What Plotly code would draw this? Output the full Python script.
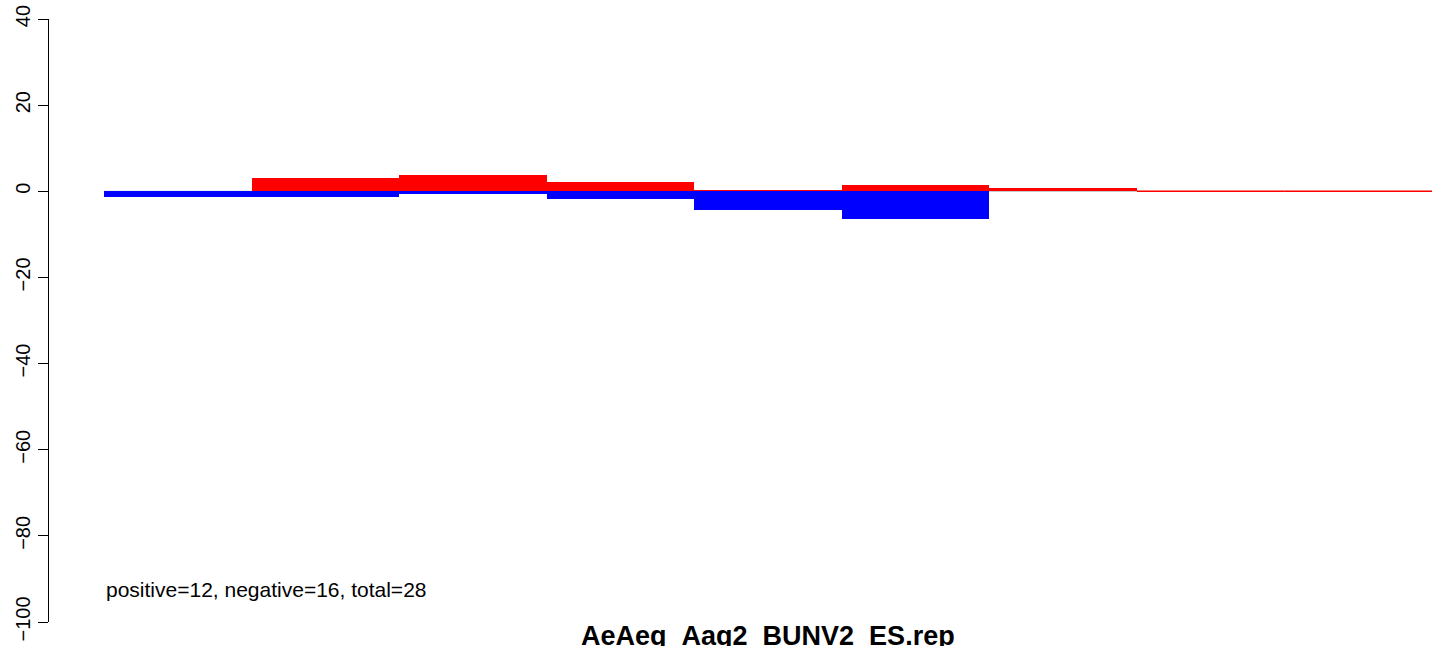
import plotly.graph_objects as go

# Bin index (9 equal-width bins)
bins = [1, 2, 3, 4, 5, 6, 7, 8, 9]
positive_vals = [0.0, 3.0, 3.7, 2.1, 0.3, 1.4, 0.8, 0.0, 0.0]
negative_vals = [-1.4, -1.4, -0.7, -1.8, -4.4, -6.5, 0.0, 0.0, 0.0]
y_ticks = [-100, -80, -60, -40, -20, 0, 20, 40]
title_text = "AeAeg_Aag2_BUNV2_ES.rep"
summary_text = "positive=12, negative=16, total=28"

centers = [b - 0.5 for b in bins]
font_family = "Liberation Sans, Arial, Helvetica, sans-serif"

fig = go.Figure()

# zero reference line across all bins
fig.add_shape(type="line", xref="x", yref="y", x0=bins[0] - 1, x1=bins[-1], y0=0, y1=0,
              line=dict(color="#bbbbbb", width=1), layer="below")

fig.add_trace(go.Bar(x=centers, y=positive_vals, width=1, marker=dict(color="#ff0000", line=dict(width=0)),
                     showlegend=False, hoverinfo="y"))
fig.add_trace(go.Bar(x=centers, y=negative_vals, width=1, marker=dict(color="#0000ff", line=dict(width=0)),
                     showlegend=False, hoverinfo="y"))

# empty bins outline (zero-height positive bars drawn as a line)
empty_x = []
for b, p, n in zip(bins, positive_vals, negative_vals):
    if p == 0 and n == 0:
        empty_x += [b - 1, b, None]
fig.add_trace(go.Scatter(x=empty_x, y=[0 if v is not None else None for v in empty_x], mode="lines",
                         line=dict(color="#ff0000", width=1.5), showlegend=False, hoverinfo="skip"))

fig.add_annotation(x=bins[0] - 1, y=-92.5, xref="x", yref="y", text=summary_text, showarrow=False,
                   xanchor="left", yanchor="middle", font=dict(family=font_family, size=21, color="black"))
fig.add_annotation(x=(bins[0] - 1 + bins[-1]) / 2, y=0, xref="x", yref="paper", text="<b>" + title_text + "</b>",
                   showarrow=False, xanchor="center", yanchor="top", yshift=3,
                   font=dict(family=font_family, size=27, color="black"))

fig.update_layout(
    width=1444, height=646,
    margin=dict(l=49, r=12, t=19, b=24, autoexpand=False),
    paper_bgcolor="white", plot_bgcolor="white",
    barmode="overlay", bargap=0,
    xaxis=dict(visible=False, range=[-0.373, 9], automargin=False),
    yaxis=dict(range=[-100, 40], tickvals=y_ticks, ticktext=[str(v).replace("-", "\u2212") for v in y_ticks],
               ticks="outside", ticklen=10, tickcolor="black", showline=True, linecolor="black", linewidth=1,
               showgrid=False, zeroline=False, tickangle=-90, automargin=False, ticklabeloverflow="allow",
               tickfont=dict(family=font_family, size=20, color="black")),
    font=dict(family=font_family),
)

fig.write_html("out.html", config={"displayModeBar": False},
               post_script="document.body.style.margin='0';document.body.style.overflow='hidden';")
